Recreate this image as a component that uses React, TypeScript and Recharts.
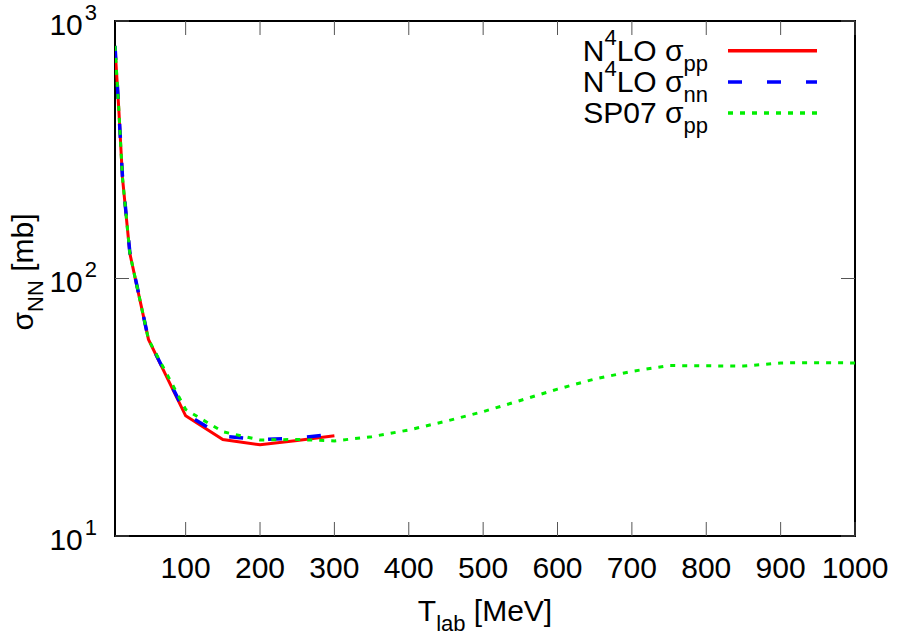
import { LineChart, Line, XAxis, YAxis, ReferenceArea } from "recharts";

// beam energies (MeV) where the N4LO curves are given
const energies = [5, 10, 15, 25, 50, 100, 150, 200, 250, 300];
const n4loPP = [790, 460, 247, 125, 58, 29.3, 23.7, 22.6, 23.5, 24.5];
const n4loNN = [800, 460, 250, 126, 58, 29.8, 24.4, 23.7, 24.0, 24.9];

// SP07 partial wave analysis, pp
const sp07Energies = [5, 10, 15, 25, 50, 100, 150, 200, 250, 300, 350, 400, 450, 500, 550, 600, 650, 700, 750, 800, 850, 900, 950, 1000];
const sp07PP = [800, 460, 247, 125, 58, 31, 25.4, 23.6, 23.7, 23.4, 24.3, 25.8, 27.9, 30.4, 33.6, 37.2, 40.7, 43.6, 45.9, 45.8, 45.7, 47, 47.1, 47];

const xTicks = [100, 200, 300, 400, 500, 600, 700, 800, 900, 1000];
const yTicks = [10, 100, 1000];

const W = 898;
const H = 637;
const LEFT = 115;
const RIGHT = 855;
const TOP = 21;
const BOTTOM = 536;
const X_AXIS_H = 30;
const Y_AXIS_W = 60;
const FONT = "'Liberation Sans', Arial, Helvetica, sans-serif";

const toPoints = (xs: number[], ys: number[]) => xs.map((t, i) => ({ t, v: ys[i] }));

const ppData = toPoints(energies, n4loPP);
const nnData = toPoints(energies, n4loNN);
const sp07Data = toPoints(sp07Energies, sp07PP);

const renderXTick = (props: any) => {
  const { x, payload } = props;
  return (
    <g key={`xt-${payload.value}`}>
      <line x1={x} x2={x} y1={BOTTOM} y2={BOTTOM - 14} stroke="#555" strokeWidth={1} />
      <line x1={x} x2={x} y1={TOP} y2={TOP + 14} stroke="#555" strokeWidth={1} />
      <text x={x} y={BOTTOM + 42} textAnchor="middle" fontSize={30} fontFamily={FONT} fill="#000">
        {payload.value}
      </text>
    </g>
  );
};

const renderYTick = (props: any) => {
  const { y, payload } = props;
  const exp = String(Math.round(Math.log10(payload.value)));
  return (
    <g key={`yt-${payload.value}`}>
      <line x1={LEFT} x2={LEFT + 14} y1={y} y2={y} stroke="#555" strokeWidth={1} />
      <line x1={RIGHT - 14} x2={RIGHT} y1={y} y2={y} stroke="#555" strokeWidth={1} />
      <text x={97} y={y + 13.5} textAnchor="end" fontSize={30} fontFamily={FONT} fill="#000">
        10
        <tspan dx={2} dy={-15} fontSize={22}>
          {exp}
        </tspan>
      </text>
    </g>
  );
};

const legendRows = [
  { sup: "4", pre: "N", mid: "LO σ", sub: "pp", color: "#ff0000", dash: undefined },
  { sup: "4", pre: "N", mid: "LO σ", sub: "nn", color: "#0000ff", dash: "14 25" },
  { sup: "", pre: "SP07 σ", mid: "", sub: "pp", color: "#00ee00", dash: "5 7" },
];

export default function App() {
  return (
    <div style={{ position: "absolute", left: 0, top: 0, width: W, height: H, background: "#fff" }}>
      <LineChart
        width={W}
        height={H}
        margin={{ top: TOP, right: W - RIGHT, bottom: H - BOTTOM - X_AXIS_H, left: LEFT - Y_AXIS_W }}
      >
        <XAxis
          type="number"
          dataKey="t"
          domain={[5, 1000]}
          ticks={xTicks}
          allowDataOverflow
          height={X_AXIS_H}
          axisLine={false}
          tickLine={false}
          tick={renderXTick}
          interval={0}
        />
        <YAxis
          type="number"
          scale="log"
          domain={[10, 1000]}
          ticks={yTicks}
          allowDataOverflow
          width={Y_AXIS_W}
          axisLine={false}
          tickLine={false}
          tick={renderYTick}
          interval={0}
        />
        <Line data={ppData} dataKey="v" type="linear" stroke="#ff0000" strokeWidth={3} dot={false} isAnimationActive={false} />
        <Line data={nnData} dataKey="v" type="linear" stroke="#0000ff" strokeWidth={3.5} strokeDasharray="14 25" dot={false} isAnimationActive={false} />
        <Line data={sp07Data} dataKey="v" type="linear" stroke="#00ee00" strokeWidth={3} strokeDasharray="5 7" dot={false} isAnimationActive={false} />
        <ReferenceArea x1={5} x2={1000} y1={10} y2={1000} fill="none" stroke="#000" strokeWidth={2} ifOverflow="visible" />
      </LineChart>

      <svg width={W} height={H} style={{ position: "absolute", left: 0, top: 0, pointerEvents: "none" }}>
        {legendRows.map((r, i) => {
          const y = 50.7 + i * 31.2;
          return (
            <g key={i}>
              <text x={708} y={y + 10} textAnchor="end" fontSize={30} fontFamily={FONT} fill="#000">
                {r.pre}
                {r.sup && (
                  <tspan dy={-16} fontSize={22}>
                    {r.sup}
                  </tspan>
                )}
                {r.sup && <tspan dy={16}>{r.mid}</tspan>}
                <tspan dy={10} fontSize={22}>
                  {r.sub}
                </tspan>
              </text>
              <line x1={728} x2={817} y1={y} y2={y} stroke={r.color} strokeWidth={3.5} strokeDasharray={r.dash} />
            </g>
          );
        })}
        <text x={485} y={621} textAnchor="middle" fontSize={30} fontFamily={FONT} fill="#000">
          T
          <tspan dy={10} fontSize={22}>lab</tspan>
          <tspan dy={-10}> [MeV]</tspan>
        </text>
        <text
          transform="rotate(-90)"
          x={-272}
          y={33}
          textAnchor="middle"
          fontSize={30}
          fontFamily={FONT}
          fill="#000"
        >
          σ
          <tspan dy={10} fontSize={22}>NN</tspan>
          <tspan dy={-10}> [mb]</tspan>
        </text>
      </svg>
    </div>
  );
}
